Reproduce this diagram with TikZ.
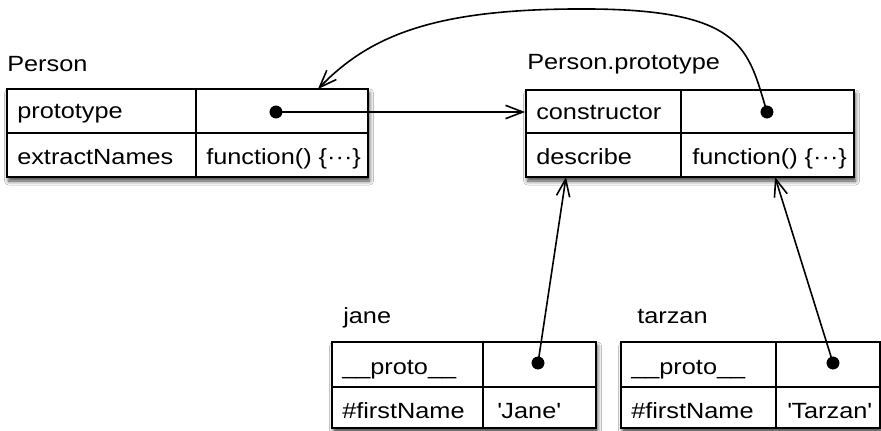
\documentclass[tikz,border=0pt]{standalone}
\usepackage{fontspec}
\setmainfont{Liberation Sans}[FakeStretch=1.15]
\usetikzlibrary{arrows.meta,fit,shadows.blur}

\tikzset{
  tablebox/.style={inner sep=0pt, fill=white, draw=black, line width=1.4pt,
    blur shadow={shadow xshift=1.2pt, shadow yshift=-3pt, shadow blur radius=3pt,
                 shadow opacity=75}},
  cellbox/.style={inner sep=0pt, draw=black, line width=1.4pt},
  txt/.style={anchor=base west, inner sep=0pt, font=\fontsize{16.5}{19}\selectfont},
  dot/.style={circle, fill=black, inner sep=0pt, minimum size=9.5pt},
  ptr/.style={line width=1.2pt, -{Straight Barb[length=13pt,width=10pt,line width=1.2pt]}},
}

\begin{document}
\begin{tikzpicture}[x=0.75pt, y=-0.75pt]
\useasboundingbox[fill=white] (0,0) rectangle (881,431);

% ---- Person ----
\node[txt] (lblPerson) at (7,72) {Person};
\node[tablebox, fit={(7,89) (368,177)}] (person) {};
\node[cellbox, fit={(7,89) (196,133)}]   (personK1) {};
\node[cellbox, fit={(196,89) (368,133)}] (personV1) {};
\node[cellbox, fit={(7,133) (196,177)}]  (personK2) {};
\node[cellbox, fit={(196,133) (368,177)}] (personV2) {};
\node[txt] (tPersonK1) at (17,119) {prototype};
\node[txt] (tPersonK2) at (17,165) {extractNames};
\node[txt] (tPersonV2) at (206,165) {function() \{\textperiodcentered\textperiodcentered\textperiodcentered\}};

% ---- Person.prototype ----
\node[txt] (lblProto) at (527,70) {Person.prototype};
\node[tablebox, fit={(526,90) (854,177)}] (proto) {};
\node[cellbox, fit={(526,90) (681,133)}]  (protoK1) {};
\node[cellbox, fit={(681,90) (854,133)}]  (protoV1) {};
\node[cellbox, fit={(526,133) (681,177)}] (protoK2) {};
\node[cellbox, fit={(681,133) (854,177)}] (protoV2) {};
\node[txt] (tProtoK1) at (536,120) {constructor};
\node[txt] (tProtoK2) at (536,165) {describe};
\node[txt] (tProtoV2) at (692,165) {function() \{\textperiodcentered\textperiodcentered\textperiodcentered\}};

% ---- jane ----
\node[txt] (lblJane) at (343,323) {jane};
\node[tablebox, fit={(332,342) (596,428)}] (jane) {};
\node[cellbox, fit={(332,342) (483,387)}] (janeK1) {};
\node[cellbox, fit={(483,342) (596,387)}] (janeV1) {};
\node[cellbox, fit={(332,387) (483,428)}] (janeK2) {};
\node[cellbox, fit={(483,387) (596,428)}] (janeV2) {};
\node[txt] (tJaneK1) at (342,374) {\_\_proto\_\_};
\node[txt] (tJaneK2) at (342,418) {\#firstName};
\node[txt] (tJaneV2) at (497,418) {\textquotesingle Jane\textquotesingle};

% ---- tarzan ----
\node[txt] (lblTarzan) at (637,323) {tarzan};
\node[tablebox, fit={(621,342) (880,428)}] (tarzan) {};
\node[cellbox, fit={(621,342) (776,387)}] (tarzanK1) {};
\node[cellbox, fit={(776,342) (880,387)}] (tarzanV1) {};
\node[cellbox, fit={(621,387) (776,428)}] (tarzanK2) {};
\node[cellbox, fit={(776,387) (880,428)}] (tarzanV2) {};
\node[txt] (tTarzanK1) at (631,374) {\_\_proto\_\_};
\node[txt] (tTarzanK2) at (631,418) {\#firstName};
\node[txt] (tTarzanV2) at (787,418) {\textquotesingle Tarzan\textquotesingle};

% ---- reference dots ----
\node[dot] (dPerson) at (276,112) {};
\node[dot] (dProto)  at (767,112) {};
\node[dot] (dJane)   at (538,363) {};
\node[dot] (dTarzan) at (833,363) {};

% ---- arrow end points on box edges ----
\coordinate (ctorTip)  at (318,89);
\coordinate (janeTip)  at (566,177);
\coordinate (tarzanTip) at (775,177);

% ---- pointers ----
\draw[ptr] (dPerson.center) -- (dPerson.center -| protoK1.west);
\draw[ptr] (dProto.center) .. controls (748,50) and (745,10) .. (590,9)
                           .. controls (440,8) and (372,33) .. (ctorTip);
\draw[ptr] (dJane.center) -- (janeTip);
\draw[ptr] (dTarzan.center) -- (tarzanTip);

% dots on top of the pointer lines
\node[dot] at (dPerson) {};
\node[dot] at (dProto) {};
\node[dot] at (dJane) {};
\node[dot] at (dTarzan) {};
\end{tikzpicture}
\end{document}
